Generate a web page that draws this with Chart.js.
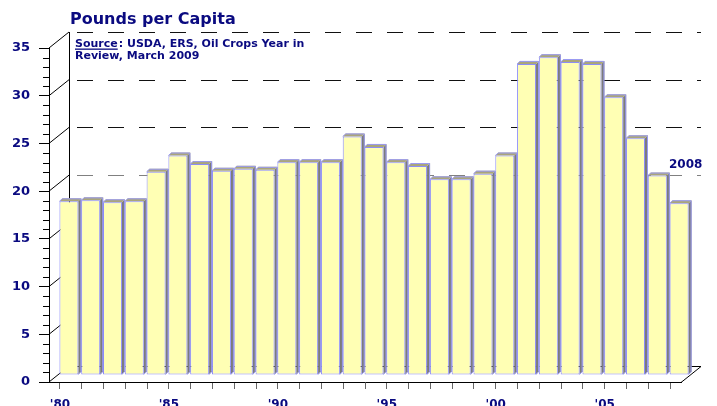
<!DOCTYPE html>
<html>
<head>
<title>Pounds per Capita</title>
<script src="https://cdn.jsdelivr.net/npm/chart.js"></script>
<style>
  html, body { margin: 0; padding: 0; background: #fff; }
</style>
</head>
<body>
<canvas id="capitaChart" width="717" height="406"></canvas>

<script>
    // values, 1980-2008
    const years = ['1980','1981','1982','1983','1984','1985','1986','1987','1988','1989',
                   '1990','1991','1992','1993','1994','1995','1996','1997','1998','1999',
                   '2000','2001','2002','2003','2004','2005','2006','2007','2008'];
    const poundsPerCapita = [18.2, 18.3, 18.1, 18.2, 21.3, 23.0, 22.1, 21.4, 21.6, 21.5,
                             22.3, 22.3, 22.3, 25.0, 23.9, 22.3, 21.9, 20.5, 20.5, 21.1,
                             23.0, 32.6, 33.3, 32.8, 32.6, 29.1, 24.8, 20.9, 18.0];
    const yearTicks = ["'80", "'85", "'90", "'95", "'00", "'05"];
    const yTicks = [0, 5, 10, 15, 20, 25, 30, 35];
    const wallGrid = [20, 25, 30, 35];

    const NAVY = '#0a0a80';
    const FONT = "'DejaVu Sans', Verdana, sans-serif";
    const DX = 20, DY = -16;          // depth of the back wall
    const BX = 9, BY = -7;            // bars sit part way back
    const SIDE = 3, TOP = 3;          // bar thickness

    Chart.defaults.font.family = FONT;

    const frame3d = {
        id: 'frame3d',
        beforeDatasetsDraw(chart) {
            const {ctx, chartArea: a, scales: {x, y}} = chart;
            const wx = a.left + DX;
            ctx.save();
            ctx.lineWidth = 1;
            ctx.strokeStyle = '#000';

            // floor + back wall outline
            ctx.beginPath();
            ctx.moveTo(wx + .5, y.getPixelForValue(35) + DY);
            ctx.lineTo(wx + .5, y.getPixelForValue(0) + DY + .5);
            ctx.lineTo(a.right + DX, y.getPixelForValue(0) + DY + .5);
            ctx.lineTo(a.right, a.bottom + .5);
            ctx.stroke();

            // left wall diagonals
            yTicks.forEach(v => {
                const py = y.getPixelForValue(v);
                ctx.beginPath();
                ctx.moveTo(a.left, py);
                ctx.lineTo(wx, py + DY);
                ctx.stroke();
            });

            // dashed lines on the back wall
            ctx.setLineDash([16, 15]);
            wallGrid.forEach(v => {
                const py = Math.round(y.getPixelForValue(v) + DY) + .5;
                ctx.strokeStyle = v === 20 ? '#808080' : '#111';
                ctx.beginPath();
                ctx.moveTo(wx + 8, py);
                ctx.lineTo(a.right + DX, py);
                ctx.stroke();
            });
            ctx.setLineDash([]);

            // minor ticks on the value axis
            ctx.strokeStyle = '#000';
            for (let v = 0; v <= 35; v++) {
                if (v % 5 === 0) continue;
                const py = Math.round(y.getPixelForValue(v)) + .5;
                ctx.beginPath();
                ctx.moveTo(a.left - 6, py);
                ctx.lineTo(a.left, py);
                ctx.stroke();
            }

            // side and top faces of the bars
            ctx.translate(BX, BY);
            const meta = chart.getDatasetMeta(0);
            meta.data.forEach(bar => {
                const p = bar.getProps(['x', 'y', 'base', 'width'], true);
                const l = p.x - p.width / 2, r = p.x + p.width / 2;
                ctx.fillStyle = '#7c7c7c';
                ctx.beginPath();
                ctx.moveTo(r, p.y);
                ctx.lineTo(r + SIDE, p.y - TOP);
                ctx.lineTo(r + SIDE, p.base - TOP);
                ctx.lineTo(r, p.base);
                ctx.closePath();
                ctx.fill();
                ctx.fillStyle = '#aaa67a';
                ctx.beginPath();
                ctx.moveTo(l, p.y);
                ctx.lineTo(l + SIDE, p.y - TOP);
                ctx.lineTo(r + SIDE, p.y - TOP);
                ctx.lineTo(r, p.y);
                ctx.closePath();
                ctx.fill();
                // outer edges
                ctx.strokeStyle = '#9a9af4';
                ctx.beginPath();
                ctx.moveTo(l, p.y);
                ctx.lineTo(l + SIDE, p.y - TOP + .5);
                ctx.lineTo(r + SIDE - .5, p.y - TOP + .5);
                ctx.lineTo(r + SIDE - .5, p.base - TOP);
                ctx.lineTo(r, p.base);
                ctx.stroke();
            });
            ctx.restore();

            ctx.save();
            ctx.translate(BX, BY);
        },
        afterDatasetsDraw(chart) {
            chart.ctx.restore();
        },
        afterDraw(chart) {
            const {ctx} = chart;
            ctx.save();
            ctx.fillStyle = NAVY;
            ctx.textBaseline = 'alphabetic';
            ctx.textAlign = 'left';

            ctx.font = 'bold 16px ' + FONT;
            ctx.fillText('Pounds per Capita', 70, 24);

            ctx.font = 'bold 11px ' + FONT;
            const w = ctx.measureText('Source').width;
            ctx.fillText('Source', 75, 47);
            ctx.fillRect(75, 48.5, w, 1.3);
            ctx.fillText(': USDA, ERS, Oil Crops Year in', 75 + w + 1, 47);
            ctx.fillText('Review, March 2009', 75, 59);

            ctx.font = 'bold 12px ' + FONT;
            ctx.fillText(years[years.length - 1], 669, 168);
            ctx.restore();
        }
    };

    const ctx = document.getElementById('capitaChart');
    const chart = new Chart(ctx, {
        type: 'bar',
        data: {
            labels: years,
            datasets: [{
                label: 'Pounds per Capita',
                data: poundsPerCapita,
                backgroundColor: '#ffffb4',
                borderColor: '#8c8cf8',
                borderWidth: 1,
                borderSkipped: false,
                categoryPercentage: 1,
                barPercentage: 0.87,
                clip: false
            }]
        },
        options: {
            responsive: false,
            animation: false,
            layout: { padding: { top: 48, right: 36, left: 0, bottom: 0 } },
            plugins: { legend: { display: false }, tooltip: { enabled: false }, title: { display: false } },
            scales: {
                x: {
                    offset: true,
                    afterFit: s => { s.height = 24; },
                    grid: { offset: false, drawOnChartArea: false, tickLength: 7, color: '#666' },
                    border: { display: true, color: '#000' },
                    ticks: {
                        autoSkip: false, maxRotation: 0, padding: 9,
                        color: NAVY, font: { size: 12, weight: 'bold' },
                        callback: (v, i) => i % 5 === 0 ? yearTicks[i / 5] : ''
                    }
                },
                y: {
                    min: 0, max: 35,
                    afterFit: s => { s.width = 49; },
                    grid: { drawOnChartArea: false, tickLength: 10, color: '#000' },
                    border: { display: true, color: '#000' },
                    ticks: { stepSize: 5, padding: 9, color: NAVY, font: { size: 13, weight: 'bold' } }
                }
            }
        },
        plugins: [frame3d]
    });
</script>
</body>
</html>
